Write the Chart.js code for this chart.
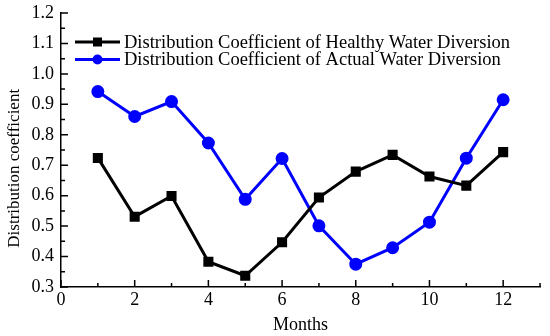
<!DOCTYPE html>
<html>
<head>
<meta charset="utf-8">
<script src="https://cdn.jsdelivr.net/npm/chart.js@4.4.1/dist/chart.umd.min.js"></script>
<style>
  html, body { margin: 0; padding: 0; background: #fff; }
  #wrap { width: 550px; height: 336px; }
</style>
</head>
<body>
<div id="wrap"><canvas id="distChart" width="550" height="336"></canvas></div>
<script>
// data
const months = [1, 2, 3, 4, 5, 6, 7, 8, 9, 10, 11, 12];
const healthy = [0.724, 0.531, 0.599, 0.383, 0.337, 0.447, 0.594, 0.679, 0.734, 0.663, 0.633, 0.743];
const actual = [0.942, 0.860, 0.909, 0.773, 0.588, 0.722, 0.501, 0.375, 0.429, 0.513, 0.723, 0.915];
const seriesNames = ['Distribution Coefficient of Healthy Water Diversion', 'Distribution Coefficient of Actual Water Diversion'];
const yTitle = 'Distribution coefficient';

const serif = '"Liberation Serif", "DejaVu Serif", serif';

// inward tick marks (major + minor) like the original plot
const innerTicks = {
    id: 'innerTicks',
    afterDraw(chart) {
        const ctx = chart.ctx;
        const x = chart.scales.x, y = chart.scales.y;
        ctx.save();
        ctx.strokeStyle = '#000';
        ctx.lineWidth = 1.5;
        ctx.beginPath();
        for (let v = 0; v <= 13; v++) {
            const px = x.getPixelForValue(v);
            const len = v % 2 === 0 ? 7 : 4;
            ctx.moveTo(px, y.bottom);
            ctx.lineTo(px, y.bottom - len);
        }
        for (let i = 6; i <= 24; i++) {
            const py = y.getPixelForValue(i / 20);
            const len = i % 2 === 0 ? 7 : 4;
            ctx.moveTo(x.left, py);
            ctx.lineTo(x.left + len, py);
        }
        ctx.stroke();

        // y axis title, sits a bit below the middle in the original
        ctx.fillStyle = '#000';
        ctx.font = '17px ' + serif;
        ctx.textAlign = 'center';
        ctx.textBaseline = 'middle';
        ctx.translate(15, y.getPixelForValue(0.69));
        ctx.rotate(-Math.PI / 2);
        ctx.fillText(yTitle, 0, 0);
        ctx.restore();
    }
};

// legend drawn inside the plot area, top left
const innerLegend = {
    id: 'innerLegend',
    afterDatasetsDraw(chart) {
        const ctx = chart.ctx;
        const left = chart.chartArea.left + 14;
        const top = chart.chartArea.top + 29;
        ctx.save();
        chart.data.datasets.forEach((ds, i) => {
            const cy = top + i * 17.5;
            ctx.strokeStyle = ds.borderColor;
            ctx.lineWidth = 3;
            ctx.beginPath();
            ctx.moveTo(left, cy);
            ctx.lineTo(left + 45, cy);
            ctx.stroke();
            ctx.fillStyle = ds.backgroundColor;
            if (ds.pointStyle === 'rect') {
                ctx.fillRect(left + 22.5 - 4.5, cy - 4.5, 9, 9);
            } else {
                ctx.beginPath();
                ctx.arc(left + 22.5, cy, 5, 0, Math.PI * 2);
                ctx.fill();
            }
            ctx.fillStyle = '#000';
            ctx.font = '18.5px ' + serif;
            ctx.textBaseline = 'middle';
            ctx.fillText(ds.label, left + 49, cy + 1);
        });
        ctx.restore();
    }
};

new Chart(document.getElementById('distChart'), {
    type: 'line',
    data: {
        labels: months,
        datasets: [{
            label: seriesNames[0],
            data: months.map((m, i) => ({x: m, y: healthy[i]})),
            borderColor: '#000000',
            backgroundColor: '#000000',
            borderWidth: 3,
            pointStyle: 'rect',
            pointRadius: 5,
            tension: 0
        }, {
            label: seriesNames[1],
            data: months.map((m, i) => ({x: m, y: actual[i]})),
            borderColor: '#0000ff',
            backgroundColor: '#0000ff',
            borderWidth: 3,
            pointStyle: 'circle',
            pointRadius: 5,
            tension: 0
        }]
    },
    options: {
        responsive: false,
        animation: false,
        layout: {
            padding: {top: 13, right: 10, left: 0, bottom: 0}
        },
        plugins: {
            legend: { display: false },
            tooltip: { enabled: false }
        },
        scales: {
            x: {
                type: 'linear',
                min: 0,
                max: 13,
                grid: { display: false, drawTicks: false, tickLength: 0 },
                border: { color: '#000', width: 1.5 },
                ticks: {
                    stepSize: 2,
                    color: '#000',
                    padding: 2,
                    font: { family: serif, size: 18 },
                    callback: v => (v % 2 === 0 ? v : '')
                },
                title: {
                    display: true,
                    text: 'Months',
                    color: '#000',
                    padding: {top: 2, bottom: 0},
                    font: { family: serif, size: 18 }
                },
                afterFit: s => { s.height = 49; s.paddingLeft = 0; s.paddingRight = 0; }
            },
            y: {
                min: 0.3,
                max: 1.2,
                grid: { display: false, drawTicks: false, tickLength: 0 },
                border: { color: '#000', width: 1.5 },
                ticks: {
                    stepSize: 0.1,
                    color: '#000',
                    padding: 7,
                    font: { family: serif, size: 18 },
                    callback: v => v.toFixed(1)
                },
                title: { display: false },
                afterFit: s => { s.width = 61; s.paddingTop = 0; s.paddingBottom = 0; }
            }
        }
    },
    plugins: [innerTicks, innerLegend]
});
</script>
</body>
</html>
